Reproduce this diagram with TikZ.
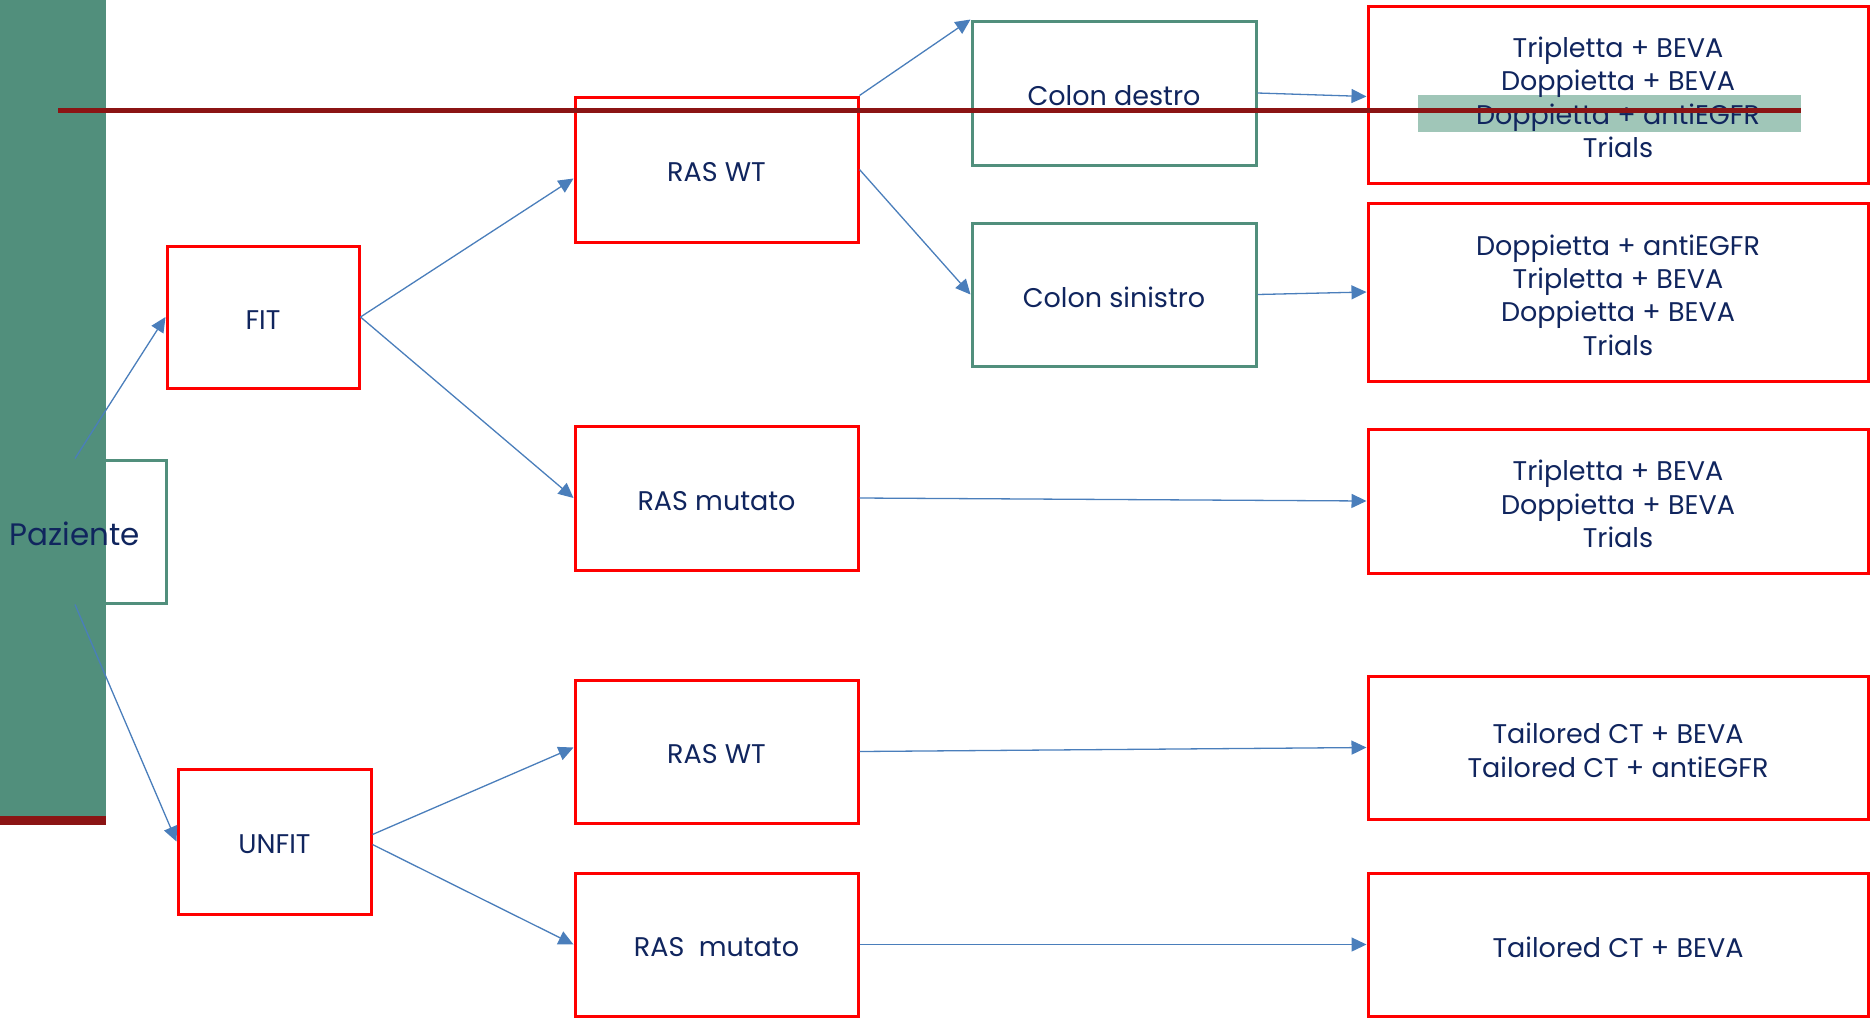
\documentclass[tikz,border=0pt]{standalone}
\usepackage{fontspec}
\setmainfont{Poppins}
\usetikzlibrary{arrows.meta}
\definecolor{barGreen}{RGB}{81,143,124}
\definecolor{hiGreen}{RGB}{160,198,184}
\definecolor{darkRed}{RGB}{139,20,20}
\definecolor{boxRed}{RGB}{255,0,0}
\definecolor{navy}{RGB}{16,37,94}
\definecolor{arrowBlue}{RGB}{74,126,187}
\tikzset{
  box/.style={draw, line width=3pt, inner sep=0pt},
  redbox/.style={box, draw=boxRed},
  greenbox/.style={box, draw=barGreen},
  txt/.style={yshift=-3pt, inner sep=0pt, align=center, text=navy,
    font=\fontsize{27}{33.4}\selectfont},
  arr/.style={draw=arrowBlue, line width=1.3pt, -{Triangle[length=15pt,width=14pt]}},
}
\begin{document}
\begin{tikzpicture}[x=1pt,y=-1pt]
\useasboundingbox (0,0) rectangle (1870,1018);
% highlight behind text
\fill[hiGreen] (1418,95) rectangle (1801,132);
% left column
\node[greenbox, minimum width=182pt, minimum height=143pt] (paz) at (75,531.5) {};
\node[redbox, minimum width=192pt, minimum height=142pt, label={[txt]center:FIT}] (fit) at (263,317) {};
\node[redbox, minimum width=193pt, minimum height=145pt, label={[txt]center:UNFIT}] (unfit) at (274.5,841.5) {};
% RAS column
\node[redbox, minimum width=283pt, minimum height=145pt, label={[txt]center:RAS WT}] (raswt1) at (716.5,169.5) {};
\node[redbox, minimum width=283pt, minimum height=144pt, label={[txt]center:RAS mutato}] (rasmut1) at (716.5,498) {};
\node[redbox, minimum width=283pt, minimum height=143pt, label={[txt]center:RAS WT}] (raswt2) at (716.5,751.5) {};
\node[redbox, minimum width=283pt, minimum height=143pt, label={[txt]center:{RAS\ \ mutato}}] (rasmut2) at (716.5,944.5) {};
% colon column
\node[greenbox, minimum width=284pt, minimum height=144pt, label={[txt]center:Colon destro}] (colondx) at (1114,93) {};
\node[greenbox, minimum width=284pt, minimum height=143pt, label={[txt]center:Colon sinistro}] (colonsx) at (1114,294.5) {};
% therapy column
\node[redbox, minimum width=500pt, minimum height=177pt,
  label={[txt]center:{Tripletta + BEVA\\Doppietta + BEVA\\Doppietta + antiEGFR\\Trials}}] (r1) at (1618,94.5) {};
\node[redbox, minimum width=500pt, minimum height=178pt,
  label={[txt]center:{Doppietta + antiEGFR\\Tripletta + BEVA\\Doppietta + BEVA\\Trials}}] (r2) at (1618,292) {};
\node[redbox, minimum width=500pt, minimum height=144pt,
  label={[txt]center:{Tripletta + BEVA\\Doppietta + BEVA\\Trials}}] (r3) at (1618,501) {};
\node[redbox, minimum width=500pt, minimum height=143pt,
  label={[txt]center:{Tailored CT + BEVA\\Tailored CT + antiEGFR}}] (r4) at (1618,747.5) {};
\node[redbox, minimum width=500pt, minimum height=143pt,
  label={[txt]center:{Tailored CT + BEVA}}] (r5) at (1618,944.5) {};
% green side bar and red strip
\fill[barGreen] (0,0) rectangle (106,816);
\fill[darkRed] (0,816) rectangle (106,825);
\node[txt, font=\fontsize{31}{36}\selectfont] (pazlabel) at (75,531) {Paziente};
% connectors
\draw[arr] (paz.north) -- (fit.west);
\draw[arr] (paz.south) -- (unfit.west);
\draw[arr] (fit.east) -- ([yshift=-9pt]raswt1.west);
\draw[arr] (fit.east) -- (rasmut1.west);
\draw[arr] (raswt1.north east) -- (colondx.north west);
\draw[arr] (raswt1.east) -- (colonsx.west);
\draw[arr] (colondx.east) -- ([yshift=-2pt]r1.west);
\draw[arr] (colonsx.east) -- (r2.west);
\draw[arr] (rasmut1.east) -- (r3.west);
\draw[arr] ([yshift=7pt]unfit.east) -- ([yshift=4pt]raswt2.west);
\draw[arr] ([yshift=-3pt]unfit.east) -- (rasmut2.west);
\draw[arr] (raswt2.east) -- (r4.west);
\draw[arr] (rasmut2.east) -- (r5.west);
% dark red line across the top
\fill[darkRed] (58,108) rectangle (1801,113);
\end{tikzpicture}
\end{document}
